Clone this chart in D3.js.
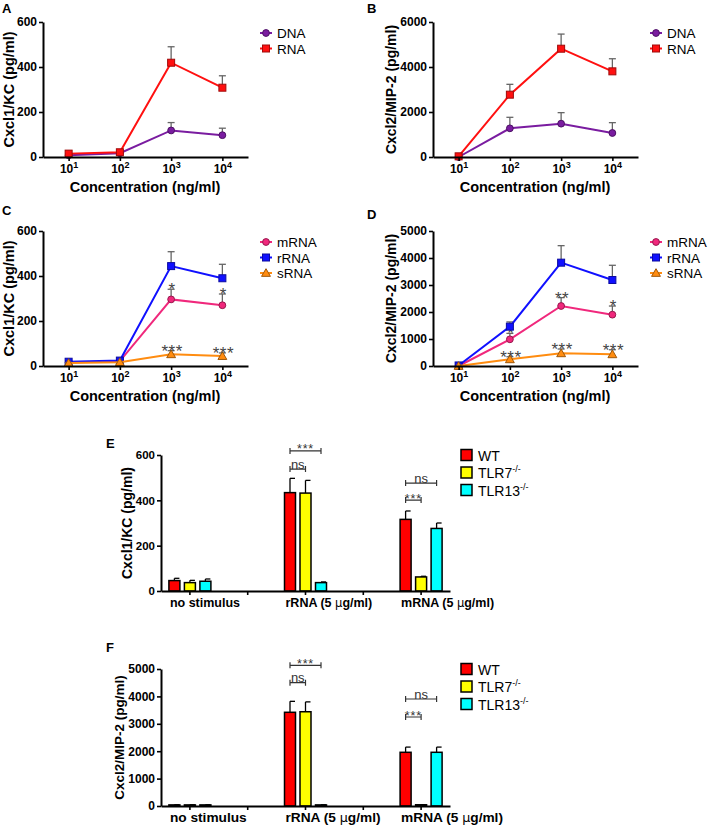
<!DOCTYPE html>
<html><head><meta charset="utf-8">
<script src="https://cdn.jsdelivr.net/npm/d3@7"></script>
<style>
body{margin:0;background:#fff}
svg{display:block;font-family:"Liberation Sans",Arial,Helvetica,sans-serif}
</style>
</head><body>
<svg id="c" width="709" height="828"></svg>
<script>
// ---------------- DATA ----------------
const concentrations = [10, 100, 1000, 10000];

// Panel A (Cxcl1/KC) DNA vs RNA
const aDNA = [8, 17, 118, 97];
const aDNAsem = [3, 3, 35, 31];
const aRNA = [15, 21, 419, 308];
const aRNAsem = [12, 6, 71, 53];

// Panel B (Cxcl2/MIP-2) DNA vs RNA
const bDNA = [0, 1274, 1481, 1067];
const bDNAsem = [0, 490, 490, 460];
const bRNA = [30, 2770, 4813, 3807];
const bRNAsem = [0, 460, 650, 560];

// Panel C (Cxcl1/KC) RNA species
const cMRNA = [15, 22, 296, 270];
const cMRNAsem = [3, 3, 45, 50];
const cRRNA = [19, 24, 444, 390];
const cRRNAsem = [4, 4, 64, 62];
const cSRNA = [13, 17, 52, 44];
const cSRNAsem = [2, 2, 16, 14];
const cMRNAstars = ["", "", "*", "*"];
const cSRNAstars = ["", "", "***", "***"];

// Panel D (Cxcl2/MIP-2) RNA species
const dMRNA = [0, 988, 2222, 1901];
const dMRNAsem = [0, 220, 310, 320];
const dRRNA = [20, 1457, 3827, 3185];
const dRRNAsem = [0, 175, 630, 545];
const dSRNA = [0, 247, 469, 432];
const dSRNAsem = [0, 95, 160, 170];
const dMRNAstars = ["", "*", "**", "*"];
const dSRNAstars = ["", "***", "***", "***"];

// Panels E / F (bar charts)
const stimuli = ["no stimulus", "rRNA (5 μg/ml)", "mRNA (5 μg/ml)"];
const genotypes = ["WT", "TLR7", "TLR13"];
const eWT = [46, 434, 316],   eWTsem = [10, 63, 37];
const eTLR7 = [37, 432, 62],  eTLR7sem = [10, 56, 3];
const eTLR13 = [43, 37, 276], eTLR13sem = [10, 3, 24];
const fWT = [40, 3420, 1960],   fWTsem = [5, 400, 190];
const fTLR7 = [40, 3440, 45],   fTLR7sem = [5, 360, 5];
const fTLR13 = [40, 40, 1960],  fTLR13sem = [5, 5, 190];
// significance brackets: group index, bar from, bar to, level (data units), label
const eBrackets = [[1, 0, 2, 618, "***"], [1, 0, 1, 538, "ns"], [2, 0, 2, 476, "ns"], [2, 0, 1, 401, "***"]];
const fBrackets = [[1, 0, 2, 5135, "***"], [1, 0, 1, 4500, "ns"], [2, 0, 2, 3905, "ns"], [2, 0, 1, 3248, "***"]];

// ---------------- STYLE ----------------
const COL = {DNA: "#7a1ca0", RNA: "#ff1010", mRNA: "#f0287c", rRNA: "#1010ff", sRNA: "#ff8c10"};
const BARCOL = ["#ff0000", "#ffff00", "#00ffff"];
const svg = d3.select("#c");

function panelLetter(txt, x, y) {
  svg.append("text").attr("x", x).attr("y", y).attr("font-size", 13).attr("font-weight", "bold").text(txt);
}

function styleAxis(g, fs) {
  g.select(".domain").attr("stroke", "#000").attr("stroke-width", 2);
  g.selectAll(".tick line").attr("stroke", "#000").attr("stroke-width", 1.6);
  g.selectAll(".tick text").attr("font-size", fs).attr("font-weight", "bold").attr("fill", "#000")
    .attr("font-family", "Liberation Sans, Arial, sans-serif");
}

function marker(g, type, cx, cy, color) {
  const stroke = d3.color(color).darker(1.3);
  if (type === "circle") {
    g.append("circle").attr("cx", cx).attr("cy", cy).attr("r", 3.4).attr("fill", color).attr("stroke", stroke).attr("stroke-width", 1);
  } else if (type === "square") {
    g.append("rect").attr("x", cx - 3.5).attr("y", cy - 3.5).attr("width", 7).attr("height", 7).attr("fill", color).attr("stroke", stroke).attr("stroke-width", 1);
  } else {
    g.append("path").attr("transform", `translate(${cx},${cy + 0.8})`).attr("d", d3.symbol(d3.symbolTriangle, 34)())
      .attr("fill", color).attr("stroke", stroke).attr("stroke-width", 1);
  }
}

function linePanel(cfg) {
  const g = svg.append("g");
  const x = d3.scaleLog().domain([Math.pow(10, 0.5), Math.pow(10, 4.5)]).range([cfg.x0, cfg.x0 + 205]);
  const y = d3.scaleLinear().domain([0, cfg.ymax]).range([cfg.y0, cfg.y0 - 135]);

  cfg.series.forEach(s => {
    const pts = concentrations.map((c, i) => ({c, v: s.values[i], e: s.sem[i]}));
    pts.forEach(p => {
      if (p.e <= 0) return;
      const xx = x(p.c), y1 = y(p.v), y2 = y(p.v + p.e);
      g.append("line").attr("x1", xx).attr("x2", xx).attr("y1", y1).attr("y2", y2).attr("stroke", "#666").attr("stroke-width", 1.3);
      g.append("line").attr("x1", xx - 3.5).attr("x2", xx + 3.5).attr("y1", y2).attr("y2", y2).attr("stroke", "#666").attr("stroke-width", 1.3);
    });
    g.append("path").datum(pts).attr("fill", "none").attr("stroke", s.color).attr("stroke-width", 2)
      .attr("d", d3.line().x(d => x(d.c)).y(d => y(d.v)));
    pts.forEach(p => marker(g, s.marker, x(p.c), y(p.v), s.color));
    if (s.stars) {
      pts.forEach((p, i) => {
        if (!s.stars[i]) return;
        g.append("text").attr("x", x(p.c) + 1).attr("y", y(p.v + p.e) + 6).attr("text-anchor", "middle")
          .attr("font-size", 17).attr("letter-spacing", 0.5).attr("fill", "#444").text(s.stars[i]);
      });
    }
  });

  const ya = d3.axisLeft(y).tickValues(d3.range(0, cfg.ymax + 1, cfg.ystep)).tickSize(4).tickSizeOuter(0).tickPadding(2).tickFormat(d3.format("d"));
  const yg = g.append("g").attr("transform", `translate(${cfg.x0},0)`).call(ya);
  styleAxis(yg, 12);
  const xa = d3.axisBottom(x).tickValues(concentrations).tickSize(4).tickSizeOuter(0).tickPadding(3).tickFormat(() => "");
  const xg = g.append("g").attr("transform", `translate(0,${cfg.y0})`).call(xa);
  styleAxis(xg, 12);
  xg.selectAll(".tick text").attr("dy", "0.75em").each(function (d) {
    const t = d3.select(this);
    t.append("tspan").text("10");
    t.append("tspan").attr("dy", -5).attr("font-size", 9).text(Math.round(Math.log10(d)));
  });

  g.append("text").attr("x", cfg.x0 + 102).attr("y", cfg.y0 + 35).attr("text-anchor", "middle")
    .attr("font-size", 14.5).attr("font-weight", "bold").text("Concentration (ng/ml)");
  g.append("text").attr("transform", `translate(${cfg.titleX},${cfg.y0 - 67.5}) rotate(-90)`).attr("text-anchor", "middle")
    .attr("font-size", cfg.titleSize).attr("font-weight", "bold").text(cfg.ytitle);

  cfg.series.forEach((s, i) => {
    const ly = cfg.y0 - 135 + 11 + i * 15.5;
    const lx = cfg.x0 + 217;
    g.append("line").attr("x1", lx).attr("x2", lx + 12).attr("y1", ly).attr("y2", ly).attr("stroke", s.color).attr("stroke-width", 2);
    marker(g, s.marker, lx + 6, ly, s.color);
    g.append("text").attr("x", lx + 17).attr("y", ly + 5).attr("font-size", 13.5).text(s.name);
  });
}

linePanel({x0: 43, y0: 157, ymax: 600, ystep: 200, titleX: 14, titleSize: 14.5, ytitle: "Cxcl1/KC (pg/ml)",
  series: [{name: "DNA", values: aDNA, sem: aDNAsem, color: COL.DNA, marker: "circle"},
           {name: "RNA", values: aRNA, sem: aRNAsem, color: COL.RNA, marker: "square"}]});
linePanel({x0: 433, y0: 157, ymax: 6000, ystep: 2000, titleX: 396, titleSize: 14, ytitle: "Cxcl2/MIP-2 (pg/ml)",
  series: [{name: "DNA", values: bDNA, sem: bDNAsem, color: COL.DNA, marker: "circle"},
           {name: "RNA", values: bRNA, sem: bRNAsem, color: COL.RNA, marker: "square"}]});
linePanel({x0: 43, y0: 366, ymax: 600, ystep: 200, titleX: 14, titleSize: 14.5, ytitle: "Cxcl1/KC (pg/ml)",
  series: [{name: "mRNA", values: cMRNA, sem: cMRNAsem, color: COL.mRNA, marker: "circle", stars: cMRNAstars},
           {name: "rRNA", values: cRRNA, sem: cRRNAsem, color: COL.rRNA, marker: "square"},
           {name: "sRNA", values: cSRNA, sem: cSRNAsem, color: COL.sRNA, marker: "triangle", stars: cSRNAstars}]});
linePanel({x0: 433, y0: 366, ymax: 5000, ystep: 1000, titleX: 396, titleSize: 14, ytitle: "Cxcl2/MIP-2 (pg/ml)",
  series: [{name: "mRNA", values: dMRNA, sem: dMRNAsem, color: COL.mRNA, marker: "circle", stars: dMRNAstars},
           {name: "rRNA", values: dRRNA, sem: dRRNAsem, color: COL.rRNA, marker: "square"},
           {name: "sRNA", values: dSRNA, sem: dSRNAsem, color: COL.sRNA, marker: "triangle", stars: dSRNAstars}]});

panelLetter("A", 2, 13);
panelLetter("B", 367, 13);
panelLetter("C", 2, 215);
panelLetter("D", 367, 219);

function barPanel(cfg) {
  const g = svg.append("g");
  const slots = d3.range(5);
  const x = d3.scaleBand().domain(slots).range([161, 450]);
  const y = d3.scaleLinear().domain([0, cfg.ymax]).range([cfg.y0, cfg.y0 - cfg.h]);
  const step = 15.5, bw = 11;
  const gc = i => x(i * 2) + x.bandwidth() / 2;
  const bc = (i, k) => gc(i) + (k - 1) * step;

  cfg.series.forEach((s, k) => {
    s.values.forEach((v, i) => {
      const cx = bc(i, k), e = s.sem[i];
      const ye = y(v + e);
      g.append("line").attr("x1", cx).attr("x2", cx).attr("y1", y(v)).attr("y2", ye).attr("stroke", "#000").attr("stroke-width", 1.3);
      g.append("line").attr("x1", cx).attr("x2", cx + 5).attr("y1", ye).attr("y2", ye).attr("stroke", "#000").attr("stroke-width", 1.3);
      g.append("rect").attr("x", cx - bw / 2).attr("y", y(v)).attr("width", bw).attr("height", cfg.y0 - y(v))
        .attr("fill", BARCOL[k]).attr("stroke", "#000").attr("stroke-width", 1.5);
    });
  });

  const ya = d3.axisLeft(y).tickValues(d3.range(0, cfg.ymax + 1, cfg.ystep)).tickSize(4).tickSizeOuter(0).tickPadding(2).tickFormat(d3.format("d"));
  const yg = g.append("g").attr("transform", `translate(161,0)`).call(ya);
  styleAxis(yg, cfg.tickSize);
  const xa = d3.axisBottom(x).tickSize(4).tickSizeOuter(0).tickFormat(() => "");
  const xg = g.append("g").attr("transform", `translate(0,${cfg.y0})`).call(xa);
  styleAxis(xg, cfg.tickSize);

  stimuli.forEach((s, i) => {
    const parts = s.split("μ");
    const t = g.append("text").attr("x", gc(i) - 20).attr("y", cfg.y0 + 16).attr("font-size", cfg.catSize).attr("font-weight", "bold");
    t.append("tspan").text(parts[0]);
    if (parts.length > 1) {
      t.append("tspan").attr("font-weight", "normal").attr("font-family", "DejaVu Sans, sans-serif").attr("font-size", cfg.catSize - 1).text("μ");
      t.append("tspan").text(parts[1]);
    }
  });

  cfg.brackets.forEach(b => {
    const x1 = bc(b[0], b[1]), x2 = bc(b[0], b[2]), yy = y(b[3]);
    const isNs = b[4] === "ns";
    g.append("path").attr("d", `M${x1},${yy - 3}V${yy + 3}M${x1},${yy}H${x2}M${x2},${yy - 3}V${yy + 3}`)
      .attr("fill", "none").attr("stroke", "#333").attr("stroke-width", 1.2);
    g.append("text").attr("x", (x1 + x2) / 2).attr("y", isNs ? yy - 0.5 : yy + 2.5).attr("text-anchor", "middle")
      .attr("font-size", isNs ? 13 : 12.5).attr("letter-spacing", isNs ? 0 : 0.8).attr("fill", "#333").text(b[4]);
  });

  g.append("text").attr("transform", `translate(${cfg.titleX},${cfg.y0 - cfg.h / 2}) rotate(-90)`).attr("text-anchor", "middle")
    .attr("font-size", cfg.titleSize).attr("font-weight", "bold").text(cfg.ytitle);

  genotypes.forEach((name, k) => {
    const ly = cfg.y0 - cfg.h + k * 17.5;
    g.append("rect").attr("x", 461).attr("y", ly - 5.5).attr("width", 11).attr("height", 11)
      .attr("fill", BARCOL[k]).attr("stroke", "#000").attr("stroke-width", 1.5);
    const t = g.append("text").attr("x", 478).attr("y", ly + 5.5).attr("font-size", 14).text(name);
    if (k > 0) t.append("tspan").attr("dy", -6).attr("font-size", 9).text("-/-");
  });
}

barPanel({y0: 591, h: 136, ymax: 600, ystep: 200, tickSize: 11.5, catSize: 12.5, titleX: 132, titleSize: 14, ytitle: "Cxcl1/KC (pg/ml)",
  brackets: eBrackets,
  series: [{values: eWT, sem: eWTsem}, {values: eTLR7, sem: eTLR7sem}, {values: eTLR13, sem: eTLR13sem}]});
barPanel({y0: 806, h: 137, ymax: 5000, ystep: 1000, tickSize: 12, catSize: 13.7, titleX: 124, titleSize: 13.5, ytitle: "Cxcl2/MIP-2 (pg/ml)",
  brackets: fBrackets,
  series: [{values: fWT, sem: fWTsem}, {values: fTLR7, sem: fTLR7sem}, {values: fTLR13, sem: fTLR13sem}]});

panelLetter("E", 106, 448);
panelLetter("F", 106, 652);
</script>
</body></html>
